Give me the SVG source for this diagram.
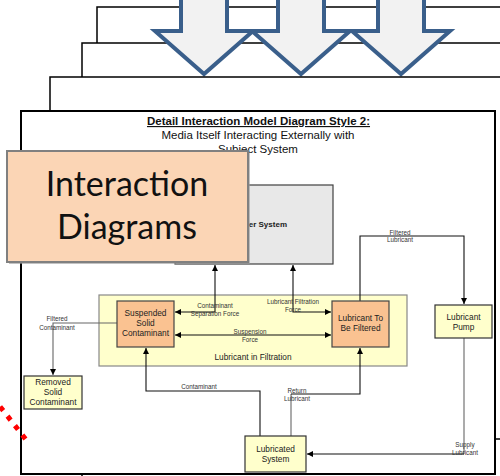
<svg xmlns="http://www.w3.org/2000/svg" width="500" height="476" viewBox="0 0 500 476">
<style>
.page{fill:#fff;stroke:#000;stroke-width:1.5}
.big{fill:#f2f2f2;stroke:#3a5f8b;stroke-width:4;stroke-linejoin:miter}
.nt{font-family:"Liberation Sans",Arial,sans-serif;font-size:8.3px;fill:#222;text-anchor:middle}
.lb{font-family:"Liberation Sans",Arial,sans-serif;font-size:6.3px;fill:#333;text-anchor:middle}
.ti{font-family:"Liberation Sans",Arial,sans-serif;font-size:11.5px;fill:#111;text-anchor:middle}
.c{fill:none;stroke:#111;stroke-width:1.1}
.g{fill:none;stroke:#666;stroke-width:1.1}
.yel{fill:#ffffcc;stroke:#333;stroke-width:1.2}
.org{fill:#fac291;stroke:#444;stroke-width:1.2}
</style>
<defs>
<marker id="ah" viewBox="0 0 10 10" refX="10" refY="5" markerWidth="7" markerHeight="6" markerUnits="userSpaceOnUse" orient="auto-start-reverse"><path d="M0,0 L10,5 L0,10 z" fill="#000"/></marker>
</defs>

<g id="back-pages">
<rect class="page" x="97" y="7" width="450" height="500"/>
<rect class="page" x="82" y="43" width="450" height="500"/>
</g>
<g id="big-arrows">
<polygon class="big" points="181,-10 227,-10 227,31 253,31 204,74 155,31 181,31"/>
<polygon class="big" points="278,-10 324,-10 324,31 350,31 301,74 252,31 278,31"/>
<polygon class="big" points="378,-10 424,-10 424,31 450,31 401,74 352,31 378,31"/>
</g>
<rect class="page" x="50" y="77" width="460" height="362"/>
<rect id="front-page" x="21" y="111" width="474" height="363" fill="#fff" stroke="#000" stroke-width="2"/>

<g id="title">
<text class="ti" x="258.5" y="125" font-weight="bold" text-decoration="underline">Detail Interaction Model Diagram Style 2:</text>
<text class="ti" x="258" y="138.5">Media Itself Interacting Externally with</text>
<text class="ti" x="258" y="152.5">Subject System</text>
</g>

<g id="container">
<rect x="99" y="295" width="308" height="71" fill="#ffffcc" stroke="#888" stroke-width="1.2"/>
<text class="nt" x="253" y="360">Lubricant in Filtration</text>
</g>

<g id="subject-system">
<rect x="175" y="185" width="158" height="79" fill="#e8e8e8" stroke="#404040" stroke-width="1.2"/>
<text x="287" y="227" text-anchor="end" font-family="Liberation Sans,Arial,sans-serif" font-size="8px" font-weight="bold" fill="#222">er System</text>
</g>

<g id="connectors">
<path class="c" d="M215,265 V312 H175" marker-start="url(#ah)" marker-end="url(#ah)"/>
<path class="c" d="M293,265 V312 H331" marker-start="url(#ah)" marker-end="url(#ah)"/>
<path class="c" d="M175,335 H331" marker-start="url(#ah)" marker-end="url(#ah)"/>
<path class="c" d="M360,301 V236 H464 V304" marker-end="url(#ah)"/>
<path class="g" d="M464,338 V454"/>
<path class="c" d="M464,454 H307" marker-end="url(#ah)"/>
<path class="g" d="M291,436 V394"/>
<path class="c" d="M291,394 H360 V348" marker-end="url(#ah)"/>
<path class="c" d="M260,436 V391 H146 V348" marker-end="url(#ah)"/>
<path class="g" d="M117,323 H53 V375" marker-end="url(#ah)"/>
<text class="lb" x="215" y="308">Contaminant</text>
<text class="lb" x="215" y="316">Separation Force</text>
<text class="lb" x="293" y="304">Lubricant Filtration</text>
<text class="lb" x="293" y="312">Force</text>
<text class="lb" x="250" y="334">Suspension</text>
<text class="lb" x="250" y="342">Force</text>
<text class="lb" x="400" y="235">Filtered</text>
<text class="lb" x="400" y="242">Lubricant</text>
<text class="lb" x="465" y="447">Supply</text>
<text class="lb" x="465" y="455">Lubricant</text>
<text class="lb" x="297" y="393">Return</text>
<text class="lb" x="297" y="401">Lubricant</text>
<text class="lb" x="199" y="389">Contaminant</text>
<text class="lb" x="57" y="321">Filtered</text>
<text class="lb" x="57" y="330">Contaminant</text>
</g>

<g id="suspended-solid-contaminant">
<rect class="org" x="117" y="301" width="57" height="46"/>
<text class="nt" x="145.5" y="316">Suspended</text>
<text class="nt" x="145.5" y="326">Solid</text>
<text class="nt" x="145.5" y="336">Contaminant</text>
</g>
<g id="lubricant-to-be-filtered">
<rect class="org" x="332" y="301" width="57" height="46"/>
<text class="nt" x="360.5" y="321">Lubricant To</text>
<text class="nt" x="360.5" y="331">Be Filtered</text>
</g>
<g id="lubricant-pump">
<rect class="yel" x="435" y="305" width="57" height="33"/>
<text class="nt" x="463.5" y="320">Lubricant</text>
<text class="nt" x="463.5" y="330">Pump</text>
</g>
<g id="removed-solid-contaminant">
<rect class="yel" x="24" y="376" width="58" height="33"/>
<text class="nt" x="53" y="385">Removed</text>
<text class="nt" x="53" y="395">Solid</text>
<text class="nt" x="53" y="405">Contaminant</text>
</g>
<g id="lubricated-system">
<rect class="yel" x="245" y="436" width="61" height="36"/>
<text class="nt" x="275.5" y="452">Lubricated</text>
<text class="nt" x="275.5" y="462">System</text>
</g>

<g id="interaction-diagrams">
<rect x="9" y="153" width="241" height="111" fill="#999" opacity="0.6"/>
<rect x="7" y="151" width="241" height="111" fill="#fbd5b5" stroke="#808080" stroke-width="2"/>
<text x="127" y="196" text-anchor="middle" font-family="Lato,'Open Sans',sans-serif" font-size="34px" fill="#111">Interaction</text>
<text x="127" y="239" text-anchor="middle" font-family="Lato,'Open Sans',sans-serif" font-size="34px" fill="#111">Diagrams</text>
</g>

<line id="red-dots" x1="-7.3" y1="397.3" x2="25.5" y2="439" stroke="#ff0000" stroke-width="5" stroke-dasharray="5 7"/>
</svg>
